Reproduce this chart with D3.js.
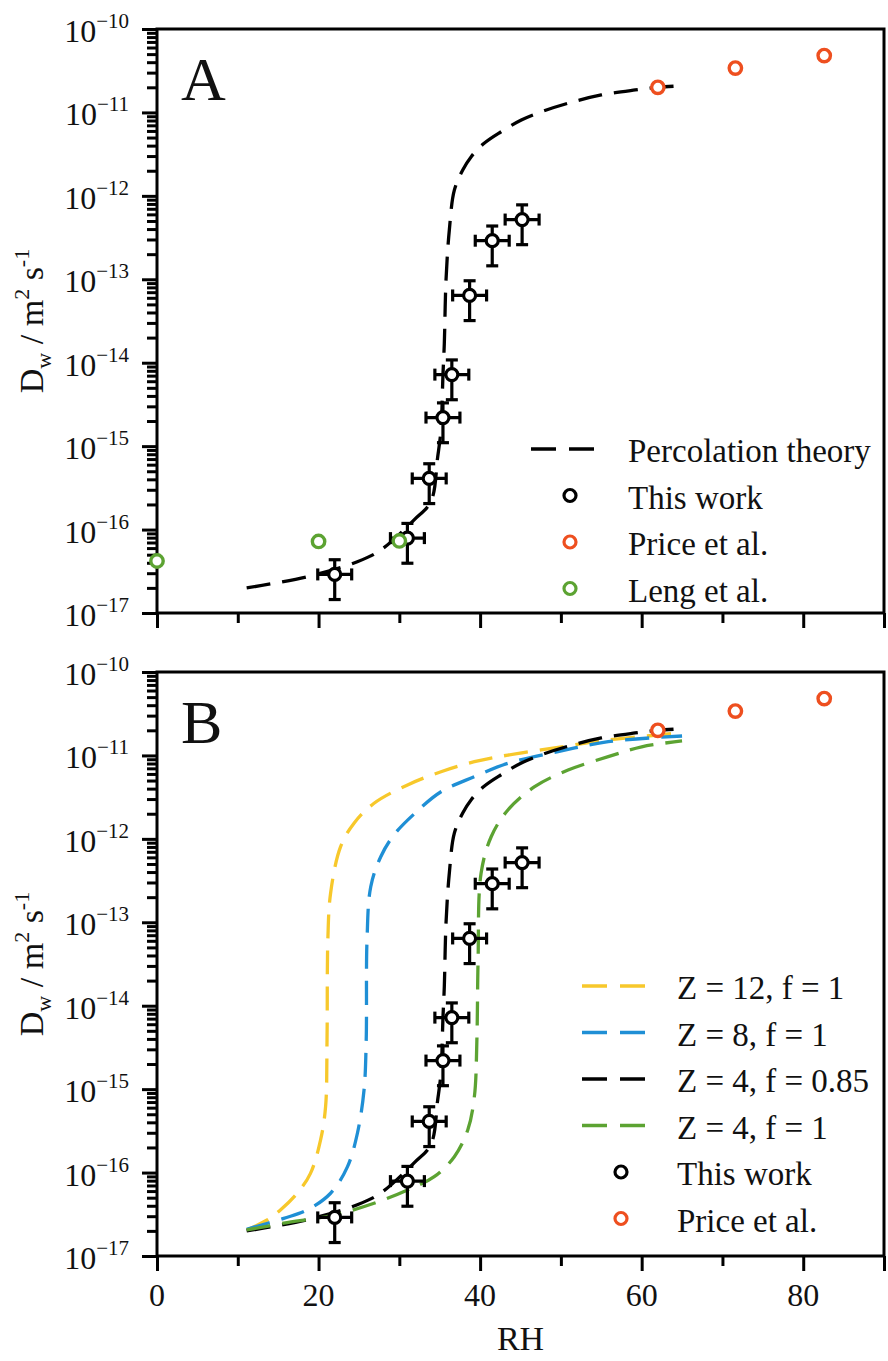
<!DOCTYPE html>
<html><head><meta charset="utf-8">
<script src="https://cdn.jsdelivr.net/npm/d3@7/dist/d3.min.js"></script>
<style>body{margin:0;background:#fff}svg{display:block}</style>
</head><body>
<script>
// ---------- data ----------
const workRH = [22.0, 31.0, 33.7, 35.4, 36.5, 38.7, 41.5, 45.2];
const workD  = [2.9e-17, 7.9e-17, 4.1e-16, 2.2e-15, 7.2e-15, 6.4e-14, 2.9e-13, 5.2e-13];
const workErrRH = 2.1;            // +/- RH
const workErrLo = 0.5, workErrHi = 1.5; // multiplicative D error
const priceRH = [62.0, 71.6, 82.6];
const priceD  = [2.0e-11, 3.4e-11, 4.8e-11];
const lengRH  = [0, 20.0, 30.0];
const lengD   = [4.2e-17, 7.2e-17, 7.3e-17];
// Percolation theory, Z = 4, f = 0.85
const percZ4f085 = [[11.1,2.0e-17],[18.6,2.72e-17],[24.8,4.12e-17],[27.7,5.69e-17],[31.8,1.30e-16],[33.9,2.16e-16],[34.75,7.48e-16],[35.15,1.56e-15],[35.4,7.2e-15],[35.57,1.71e-14],[35.78,9.82e-14],[36.19,3.90e-13],[36.81,1.17e-12],[37.85,2.04e-12],[38.9,2.95e-12],[40.5,4.27e-12],[42.6,5.87e-12],[45.1,8.11e-12],[47.6,1.02e-11],[50.9,1.29e-11],[55.0,1.62e-11],[59.2,1.86e-11],[62.1,2.0e-11],[65.0,2.09e-11]];
// Z = 12, f = 1
const percZ12 = [[11.1,2.05e-17],[13.63,2.70e-17],[15.28,3.56e-17],[17.35,5.65e-17],[19.0,9.79e-17],[20.25,2.46e-16],[20.87,6.17e-16],[21.05,3.88e-15],[21.15,6.14e-14],[21.49,2.23e-13],[22.73,8.07e-13],[24.39,1.54e-12],[26.87,2.67e-12],[31.02,4.43e-12],[35.16,6.38e-12],[39.29,8.41e-12],[43.44,1.01e-11],[49.65,1.25e-11],[55.86,1.53e-11],[65.0,1.87e-11]];
// Z = 8, f = 1
const percZ8 = [[11.1,2.09e-17],[15.69,2.83e-17],[18.6,3.56e-17],[21.49,5.65e-17],[23.57,1.17e-16],[24.81,2.96e-16],[25.63,9.77e-16],[25.9,3.88e-15],[26.0,6.14e-14],[26.46,2.67e-13],[27.70,6.11e-13],[29.35,1.12e-12],[31.84,1.99e-12],[35.16,3.67e-12],[39.29,5.56e-12],[43.44,8.05e-12],[49.65,1.11e-11],[55.86,1.46e-11],[65.0,1.71e-11]];
// Z = 4, f = 1
const percZ4f1 = [[11.1,2.05e-17],[15.69,2.47e-17],[21.9,3.10e-17],[26.87,4.29e-17],[31.02,6.18e-17],[34.32,8.93e-17],[36.81,1.55e-16],[38.47,3.24e-16],[39.29,8.13e-16],[39.6,3.88e-15],[39.75,3.55e-14],[40.12,3.86e-13],[41.37,1.06e-12],[43.44,2.22e-12],[46.75,4.22e-12],[50.89,6.68e-12],[55.86,9.66e-12],[60.0,1.27e-11],[65.0,1.49e-11]];
const xTicksMajor = [0, 20, 40, 60, 80];
const xTicksMinor = [10, 30, 50, 70];
const yExponents = [-10, -11, -12, -13, -14, -15, -16, -17];
const legendA = ["Percolation theory", "This work", "Price et al.", "Leng et al."];
const legendB = ["Z = 12, f = 1", "Z = 8, f = 1", "Z = 4, f = 0.85", "Z = 4, f = 1", "This work", "Price et al."];

// ---------- style ----------
const C = {black:"#000", orange:"#EE4F1F", green:"#5CA332", yellow:"#F7C82B", blue:"#1F8FD5"};
const FONT = "'Liberation Serif','Times New Roman',serif";

const W = 888, H = 1361;
const svg = d3.select("body").append("svg").attr("width", W).attr("height", H)
  .style("font-family", FONT);

const x = d3.scaleLinear().domain([0, 90]).range([157, 884]);
const line = (y) => d3.line().x(d => x(d[0])).y(d => y(d[1])).curve(d3.curveCatmullRom.alpha(0.5));

function panel(top, letter, isBottom) {
  const bottom = top + 584;
  const y = d3.scaleLog().domain([1e-17, 1e-10]).range([bottom, top]);
  const g = svg.append("g");
  const minors = [];
  for (let e = -17; e < -10; e++) for (let k = 2; k <= 9; k++) minors.push(k * Math.pow(10, e));
  g.append("g").attr("transform", `translate(${x(0)},0)`)
    .call(d3.axisLeft(y).tickValues(minors).tickSize(10).tickFormat(""))
    .call(a => a.select(".domain").remove())
    .selectAll("line").attr("stroke", "#000").attr("stroke-width", 3);
  const majors = yExponents.map(e => Math.pow(10, e));
  g.append("g").attr("transform", `translate(${x(0)},0)`)
    .call(d3.axisLeft(y).tickValues(majors).tickSize(15).tickFormat(""))
    .call(a => a.select(".domain").remove())
    .selectAll("line").attr("stroke", "#000").attr("stroke-width", 3);
  yExponents.forEach(e => {
    const t = g.append("text").attr("x", 129).attr("y", y(Math.pow(10, e)) + 13)
      .attr("text-anchor", "end").attr("font-size", 32).attr("fill", "#111");
    t.append("tspan").text("10");
    t.append("tspan").attr("font-size", 21).attr("dy", -14).text("\u2212" + Math.abs(e));
  });
  g.append("g").attr("transform", `translate(0,${bottom})`)
    .call(d3.axisBottom(x).tickValues(xTicksMinor).tickSize(10).tickFormat(""))
    .call(a => a.select(".domain").remove())
    .selectAll("line").attr("stroke", "#000").attr("stroke-width", 3);
  g.append("g").attr("transform", `translate(0,${bottom})`)
    .call(d3.axisBottom(x).tickValues(xTicksMajor.concat([90])).tickSize(15).tickFormat(""))
    .call(a => a.select(".domain").remove())
    .selectAll("line").attr("stroke", "#000").attr("stroke-width", 3);
  if (isBottom) {
    xTicksMajor.forEach(v => g.append("text").attr("x", x(v)).attr("y", bottom + 50)
      .attr("text-anchor", "middle").attr("font-size", 32).attr("fill", "#111").text(v));
    g.append("text").attr("x", (x(0) + x(90)) / 2).attr("y", bottom + 94)
      .attr("text-anchor", "middle").attr("font-size", 34).attr("fill", "#111").text("RH");
  }
  g.append("rect").attr("x", x(0)).attr("y", top).attr("width", x(90) - x(0)).attr("height", 584)
    .attr("fill", "none").attr("stroke", "#000").attr("stroke-width", 3);
  const yt = g.append("text").attr("transform", `translate(43,${(top + bottom) / 2}) rotate(-90)`)
    .attr("text-anchor", "middle").attr("font-size", 34).attr("fill", "#111");
  yt.append("tspan").text("D");
  yt.append("tspan").attr("font-size", 22).attr("dy", 8).text("w");
  yt.append("tspan").attr("dy", -8).text(" / m");
  yt.append("tspan").attr("font-size", 22).attr("dy", -14).text("2");
  yt.append("tspan").attr("dy", 14).text(" s");
  yt.append("tspan").attr("font-size", 22).attr("dy", -14).text("-1");
  g.append("text").attr("x", 181).attr("y", top + 71).attr("font-size", 62).attr("fill", "#111").text(letter);
  return {g, y, top, bottom};
}

function curve(p, data, color) {
  p.g.append("path").datum(data).attr("d", line(p.y)).attr("fill", "none")
    .attr("stroke", color).attr("stroke-width", 3.3).attr("stroke-dasharray", "24,12");
}
function work(p) {
  const g = p.g.append("g").attr("stroke", "#000").attr("stroke-width", 3.2);
  workRH.forEach((rh, i) => {
    const cx = x(rh), cy = p.y(workD[i]);
    const yl = p.y(workD[i] * workErrLo), yh = p.y(workD[i] * workErrHi);
    const xl = x(rh - workErrRH), xh = x(rh + workErrRH);
    g.append("line").attr("x1", cx).attr("x2", cx).attr("y1", yl).attr("y2", yh);
    g.append("line").attr("x1", cx - 6).attr("x2", cx + 6).attr("y1", yl).attr("y2", yl);
    g.append("line").attr("x1", cx - 6).attr("x2", cx + 6).attr("y1", yh).attr("y2", yh);
    g.append("line").attr("x1", xl).attr("x2", xh).attr("y1", cy).attr("y2", cy);
    g.append("line").attr("x1", xl).attr("x2", xl).attr("y1", cy - 6).attr("y2", cy + 6);
    g.append("line").attr("x1", xh).attr("x2", xh).attr("y1", cy - 6).attr("y2", cy + 6);
    g.append("circle").attr("cx", cx).attr("cy", cy).attr("r", 6).attr("fill", "#fff");
  });
}
function dots(p, rhs, ds, color) {
  rhs.forEach((rh, i) => p.g.append("circle").attr("cx", x(rh)).attr("cy", p.y(ds[i])).attr("r", 6.2)
    .attr("fill", "#fff").attr("stroke", color).attr("stroke-width", 3.4));
}
function legend(p, rows, lx, tx, y0, dy) {
  rows.forEach((r, i) => {
    const yy = y0 + i * dy;
    if (r.type === "line") {
      p.g.append("line").attr("x1", lx).attr("x2", lx + 65).attr("y1", yy).attr("y2", yy)
        .attr("stroke", r.color).attr("stroke-width", 3.3).attr("stroke-dasharray", "25,13");
    } else {
      p.g.append("circle").attr("cx", lx + 39).attr("cy", yy).attr("r", 6)
        .attr("fill", "#fff").attr("stroke", r.color).attr("stroke-width", 3.2);
    }
    p.g.append("text").attr("x", tx).attr("y", yy + 13).attr("font-size", 33).attr("fill", "#111").text(r.label);
  });
}

// Panel A
const A = panel(29, "A", false);
curve(A, percZ4f085, C.black);
work(A);
dots(A, priceRH, priceD, C.orange);
dots(A, lengRH, lengD, C.green);
legend(A, [
  {type:"line", color:C.black, label:legendA[0]},
  {type:"dot", color:C.black, label:legendA[1]},
  {type:"dot", color:C.orange, label:legendA[2]},
  {type:"dot", color:C.green, label:legendA[3]}], 531, 628, 449, 46.5);

// Panel B
const B = panel(672, "B", true);
curve(B, percZ12, C.yellow);
curve(B, percZ8, C.blue);
curve(B, percZ4f085, C.black);
curve(B, percZ4f1, C.green);
work(B);
dots(B, priceRH, priceD, C.orange);
legend(B, [
  {type:"line", color:C.yellow, label:legendB[0]},
  {type:"line", color:C.blue, label:legendB[1]},
  {type:"line", color:C.black, label:legendB[2]},
  {type:"line", color:C.green, label:legendB[3]},
  {type:"dot", color:C.black, label:legendB[4]},
  {type:"dot", color:C.orange, label:legendB[5]}], 582, 677, 986, 46.5);
</script>
</body></html>
